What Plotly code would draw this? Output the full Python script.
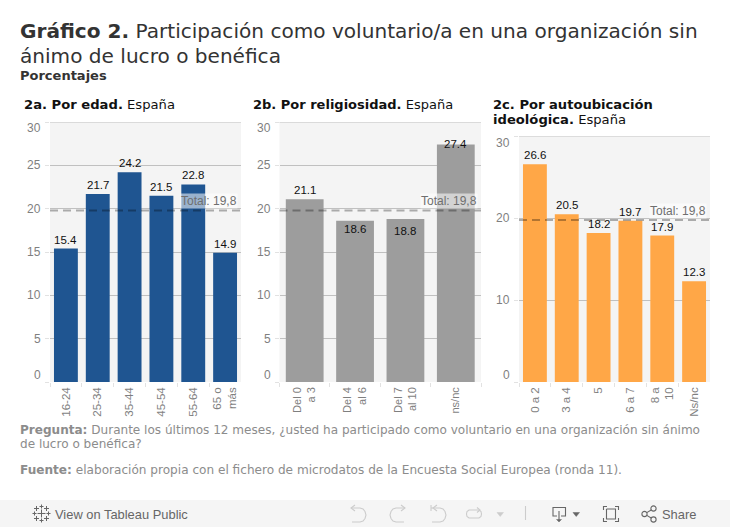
import plotly.graph_objects as go

W, H = 730, 527
TOTAL = 19.8
TOTAL_LABEL = "Total: 19,8"

age_cats = ["16-24", "25-34", "35-44", "45-54", "55-64", "65 o<br>más"]
age_vals = [15.4, 21.7, 24.2, 21.5, 22.8, 14.9]
rel_cats = ["Del 0<br>a 3", "Del 4<br>al 6", "Del 7<br>al 10", "ns/nc"]
rel_vals = [21.1, 18.6, 18.8, 27.4]
ideo_cats = ["0 a 2", "3 a 4", "5", "6 a 7", "8 a<br>10", "Ns/nc"]
ideo_vals = [26.6, 20.5, 18.2, 19.7, 17.9, 12.3]
ticks_ab = [0, 5, 10, 15, 20, 25, 30]
ticks_c = [0, 10, 20, 30]

# vertical pixel offset of each value label relative to its bar top
age_off = [9, 9, 9, 9, 9, 9]
rel_off = [9, -8, -12, 1]
ideo_off = [9, 9, 9, 9, 9, 9]

panels = [
    dict(cats=age_cats, vals=age_vals, off=age_off, color="#1f5591", ticks=ticks_ab, tick_size=11.5,
         x0=50, x1=241, y0=122, y1=382),
    dict(cats=rel_cats, vals=rel_vals, off=rel_off, color="#9d9d9d", ticks=ticks_ab, tick_size=11,
         x0=279.5, x1=481, y0=122, y1=382),
    dict(cats=ideo_cats, vals=ideo_vals, off=ideo_off, color="#ffa747", ticks=ticks_c, tick_size=11.5,
         x0=519, x1=710, y0=136.5, y1=382),
]

BODY = "Liberation Sans, Arial, sans-serif"
HEAD = "DejaVu Sans, Verdana, sans-serif"
GREY = "#7f7f7f"

fig = go.Figure()
ann, shapes = [], []


def px(x, y):
    return x / W, 1 - y / H


def poly(points, color, width=1.1, fill=None):
    s = ""
    for i, (x, y) in enumerate(points):
        a, b = px(x, y)
        s += ("M" if i == 0 else "L") + f"{a:.5f},{b:.5f} "
    if fill:
        s += "Z"
    shapes.append(dict(type="path", xref="paper", yref="paper", path=s,
                       line=dict(color=color, width=width), fillcolor=fill or "rgba(0,0,0,0)", layer="above"))


def circle(cx, cy, r, color):
    a0, b0 = px(cx - r, cy - r)
    a1, b1 = px(cx + r, cy + r)
    shapes.append(dict(type="circle", xref="paper", yref="paper", x0=a0, x1=a1, y0=b1, y1=b0,
                       line=dict(color=color, width=1.1), layer="above"))


def text(x, y, s, size, color, font=HEAD, anchor="left"):
    a, b = px(x, y)
    ann.append(dict(x=a, y=b, xref="paper", yref="paper", text=s, showarrow=False,
                    xanchor=anchor, yanchor="middle", align="left", borderpad=0, borderwidth=0,
                    font=dict(size=size, color=color, family=font)))


for i, p in enumerate(panels):
    sx = "" if i == 0 else str(i + 1)
    fig.add_trace(go.Bar(x=p["cats"], y=p["vals"], marker=dict(color=p["color"], line_width=0),
                         xaxis="x" + sx, yaxis="y" + sx, hoverinfo="skip", showlegend=False))
    fig.layout["xaxis" + sx] = dict(
        domain=[p["x0"] / W, p["x1"] / W], anchor="y" + sx, type="category",
        tickson="boundaries", ticks="outside", ticklen=4, tickcolor="#e2e2e2", showgrid=False,
        showline=False, tickangle=-90, ticklabelstandoff=2,
        tickfont=dict(size=p["tick_size"], color=GREY, family=BODY),
        automargin=False, range=[-0.5, len(p["cats"]) - 0.5])
    fig.layout["yaxis" + sx] = dict(
        domain=[1 - p["y1"] / H, 1 - p["y0"] / H], anchor="x" + sx, range=[0, 30],
        tickvals=p["ticks"], showticklabels=False, ticks="outside", ticklen=4,
        tickcolor="#e2e2e2", gridcolor="#c0c0c0", gridwidth=1, zeroline=False, showline=False,
        automargin=False)
    # top gridline, which plotly drops at the edge of the range
    shapes.append(dict(type="line", xref=f"x{sx} domain", yref="y" + sx, x0=0, x1=1,
                       y0=p["ticks"][-1], y1=p["ticks"][-1],
                       line=dict(color="#c0c0c0", width=1), layer="below"))
    # y tick labels: the outer two are pulled inside the plot as in the reference
    for t in p["ticks"]:
        shift = -6 if t == p["ticks"][-1] else (7 if t == 0 else 0)
        ann.append(dict(x=0, y=t, xref=f"x{sx} domain", yref="y" + sx, text=str(t), showarrow=False,
                        xanchor="right", yanchor="middle", xshift=-7, yshift=shift,
                        font=dict(size=12, color=GREY, family=BODY)))
    # bar value labels (x is the category index: "5" would be read as a position)
    for j, (v, o) in enumerate(zip(p["vals"], p["off"])):
        ann.append(dict(x=j, y=v, xref="x" + sx, yref="y" + sx, text=f"{v:.1f}", showarrow=False,
                        xanchor="center", yanchor="middle", yshift=o,
                        font=dict(size=11.5, color="#111111", family=BODY)))
    # reference line and label
    shapes.append(dict(type="line", xref=f"x{sx} domain", yref="y" + sx, x0=0, x1=1, y0=TOTAL, y1=TOTAL,
                       line=dict(color="rgba(0,0,0,0.3)", width=2, dash="8px,5px"), layer="above"))
    ann.append(dict(x=1, y=TOTAL, xref=f"x{sx} domain", yref="y" + sx, text=TOTAL_LABEL, showarrow=False,
                    xanchor="right", yanchor="bottom", yshift=1, xshift=-3, borderpad=0,
                    bgcolor="rgba(255,255,255,0.55)", font=dict(size=12, color="#6f6f6f", family=BODY)))

# headings
text(20, 31, "<b>Gráfico 2.</b> Participación como voluntario/a en una organización sin", 20.08, "#333333")
text(20, 56, "ánimo de lucro o benéfica", 20.08, "#333333")
text(20, 75, "<b>Porcentajes</b>", 13, "#333333")
text(24, 105, "<b>2a. Por edad.</b> España", 13.15, "#111111")
text(253, 105, "<b>2b. Por religiosidad.</b> España", 13, "#111111")
text(493, 104, "<b>2c. Por autoubicación</b>", 13.1, "#111111")
text(493, 119, "<b>ideológica.</b> España", 13.15, "#111111")

# notes
NOTE = "#8c8c8c"
text(20, 430, "<b>Pregunta:</b> Durante los últimos 12 meses, ¿usted ha participado como voluntario en una organización sin ánimo", 12.05, NOTE)
text(20, 444, "de lucro o benéfica?", 12.05, NOTE)
text(20, 470, "<b>Fuente:</b> elaboración propia con el fichero de microdatos de la Encuesta Social Europea (ronda 11).", 12.1, NOTE)

# Tableau toolbar
a0, b0 = px(0, 500)
shapes.append(dict(type="rect", xref="paper", yref="paper", x0=0, x1=1, y0=0, y1=b0,
                   fillcolor="#f5f5f5", line_width=0, layer="below"))
text(55, 514, "View on Tableau Public", 12.9, "#666666", font=BODY)
text(662, 514, "Share", 12.9, "#666666", font=BODY)

DARK, LIGHT = "#666666", "#cccccc"

# Tableau logo: a centre cross with smaller crosses round it
for cx, cy, r in [(41.5, 513.5, 4), (41.5, 506.5, 2), (41.5, 520.5, 2), (34.5, 513.5, 2), (48.5, 513.5, 2),
                  (36.5, 508.5, 2.5), (46.5, 508.5, 2.5), (36.5, 518.5, 2.5), (46.5, 518.5, 2.5)]:
    poly([(cx - r, cy), (cx + r, cy)], DARK, 1)
    poly([(cx, cy - r), (cx, cy + r)], DARK, 1)

# undo, redo, revert
curve = [(0, 0), (9, 0), (12, 1), (14, 3.5), (15, 7), (14, 10.5), (12, 13), (9, 14), (1, 14)]
head = [(4, -3), (0, 0), (4, 3)]
poly([(351 + x, 508 + y) for x, y in curve], LIGHT)
poly([(351 + x, 508 + y) for x, y in head], LIGHT)
poly([(405 - x, 508 + y) for x, y in curve], LIGHT)
poly([(405 - x, 508 + y) for x, y in head], LIGHT)
poly([(431 + x, 508 + y) for x, y in curve], LIGHT)
poly([(433 + x, 508 + y) for x, y in head], LIGHT)
poly([(431, 505), (431, 511)], LIGHT)
# refresh
poly([(479, 510), (469, 510), (467, 511.5), (466.5, 514), (467, 516.5), (469, 518), (479, 518), (481, 516.5),
      (481.5, 514), (481, 511.5), (479, 510)], LIGHT)
poly([(477, 507.5), (480, 510), (477, 512.5)], LIGHT)
# dropdown and separator
poly([(497, 512.5), (503.5, 512.5), (500.2, 516.5)], LIGHT, 0.5, LIGHT)
poly([(525.5, 506), (525.5, 520)], LIGHT)
# download
poly([(557, 516), (553, 516), (553, 507.5), (565.5, 507.5), (565.5, 516), (561, 516)], DARK)
poly([(559, 511), (559, 520)], DARK)
poly([(556.5, 519.5), (561.5, 519.5), (559, 522)], DARK, 0.5, DARK)
poly([(573, 512.5), (579.5, 512.5), (576.2, 516.5)], DARK, 0.5, DARK)
# fullscreen
for pts in ([(603.5, 510), (603.5, 506.5), (607, 506.5)], [(615, 506.5), (618.5, 506.5), (618.5, 510)],
            [(603.5, 518), (603.5, 521.5), (607, 521.5)], [(615, 521.5), (618.5, 521.5), (618.5, 518)]):
    poly(pts, DARK)
poly([(606.5, 509), (615.5, 509), (615.5, 519), (606.5, 519), (606.5, 509)], DARK)
# share
circle(644.5, 514, 2.6, DARK)
circle(653.5, 508.5, 2.6, DARK)
circle(653.5, 519.5, 2.6, DARK)
poly([(646.8, 512.6), (651.2, 510)], DARK)
poly([(646.8, 515.4), (651.2, 518)], DARK)

fig.update_layout(width=W, height=H, margin=dict(l=0, r=0, t=0, b=0), autosize=False,
                  paper_bgcolor="white", plot_bgcolor="#f4f4f4", bargap=0.25,
                  annotations=ann, shapes=shapes, showlegend=False)

fig.write_html("out.html", config=dict(displayModeBar=False),
               post_script="document.body.style.margin='0';document.body.style.overflow='hidden';")
